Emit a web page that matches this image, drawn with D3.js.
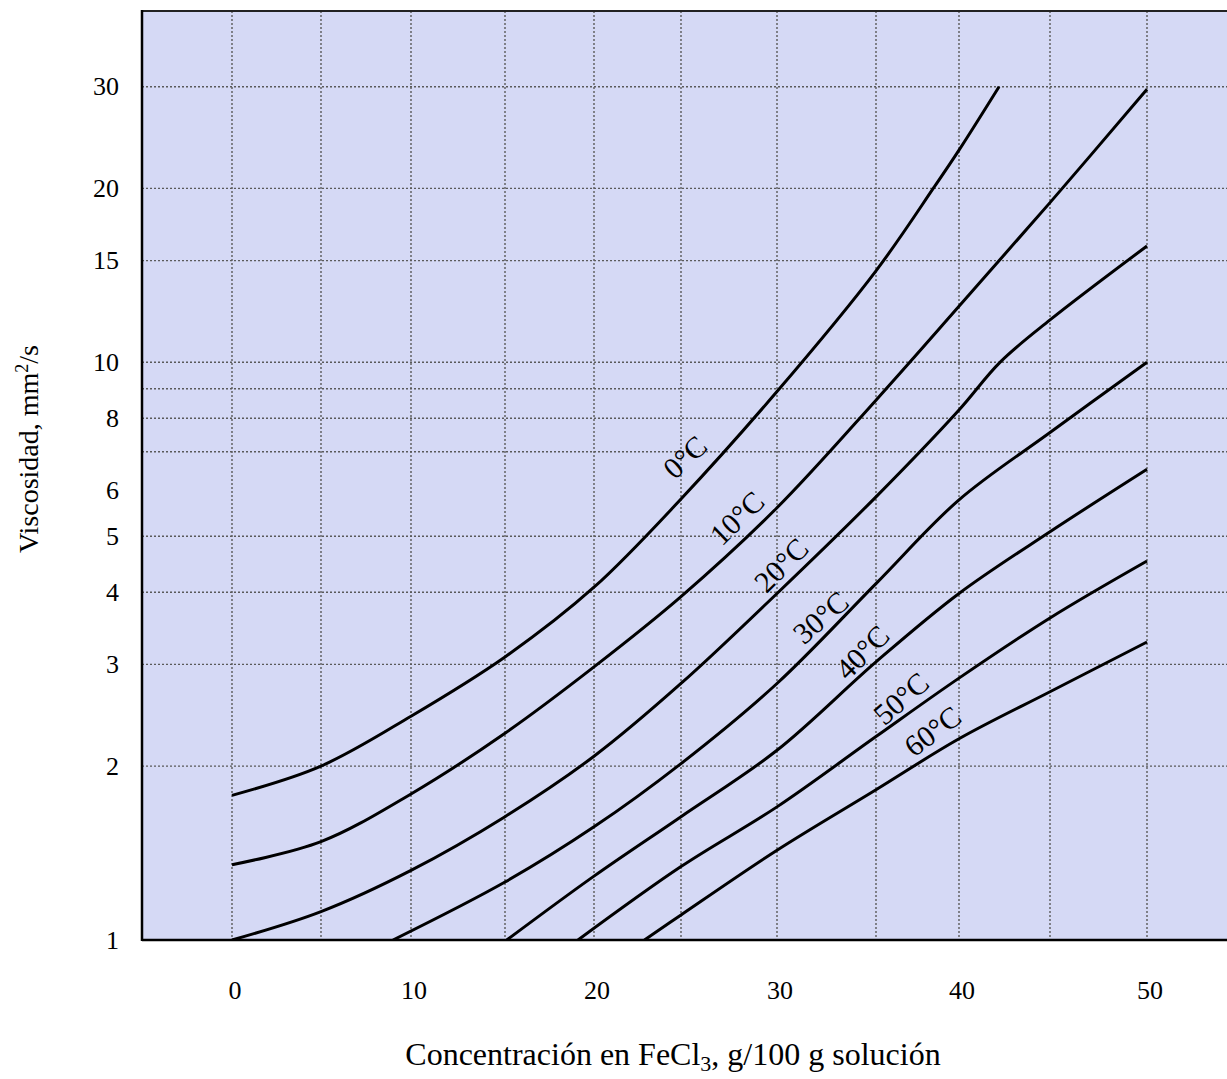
<!DOCTYPE html>
<html>
<head>
<meta charset="utf-8">
<script src="https://cdn.jsdelivr.net/npm/d3@7"></script>
<style>
  html, body { margin: 0; padding: 0; background: #ffffff; }
  svg { display: block; }
  text { font-family: "Liberation Serif", "Times New Roman", "DejaVu Serif", serif; fill: #000; }
</style>
</head>
<body>
<svg id="chart" width="1227" height="1079"></svg>
<script>
// ---------------- data ----------------
const xTicks = [0, 10, 20, 30, 40, 50];
const xGrid = [0, 5, 10, 15, 20, 25, 30, 35, 40, 45, 50, 55];
const yTickLabels = [1, 2, 3, 4, 5, 6, 8, 10, 15, 20, 30];
const yGrid = [2, 3, 4, 5, 7, 8, 9, 10, 15, 20, 30];

const temps = ["0°C", "10°C", "20°C", "30°C", "40°C", "50°C", "60°C"];

const c0 = [[0,1.78],[5,2.0],[10,2.44],[15,3.09],[20,4.08],[25,5.8],[30,8.9],[35,14.4],[38.5,20.1],[40,23.3],[42.2,30]];
const c10 = [[0,1.35],[5,1.48],[10,1.79],[15,2.28],[20,2.97],[25,3.93],[30,5.6],[35,8.6],[40,12.5],[45,18.9],[50,29.7]];
const c20 = [[0,1.0],[5,1.12],[10,1.32],[15,1.635],[20,2.08],[25,2.78],[30,3.98],[35,5.85],[40,8.27],[42.25,10],[45,11.84],[50,15.9]];
const c30 = [[9.0,1.0],[15,1.26],[20,1.57],[25,2.02],[30,2.78],[35,4.14],[40,5.78],[45,7.56],[50,10.0]];
const c40 = [[15.1,1.0],[20,1.29],[25,1.635],[30,2.13],[35,3.03],[40,3.98],[45,5.09],[50,6.53]];
const c50 = [[19.1,1.0],[25,1.34],[30,1.70],[35,2.25],[40,2.84],[45,3.61],[50,4.53]];
const c60 = [[22.9,1.0],[25,1.105],[30,1.43],[35,1.82],[40,2.23],[45,2.69],[50,3.28]];
const curves = [c0, c10, c20, c30, c40, c50, c60];

// label anchors (data coordinates) and rotation
const labelAt = [[25.2,6.86],[27.9,5.38],[30.2,4.46],[32.2,3.62],[34.3,3.15],[36.5,2.62],[38.4,2.30]];
const labelAngle = [-43, -44, -45, -41, -45, -41, -37];

// ---------------- scales ----------------
const x = d3.scaleLinear()
  .domain([-5, 0, 5, 10, 15, 20, 25, 30, 35, 40, 45, 50, 55])
  .range([142, 232, 321, 411, 505, 594, 681, 777, 876, 959, 1050, 1147, 1240]);
const y = d3.scaleLog().domain([1, 30]).range([940, 86.7]);

const plotLeft = 142, plotRight = 1240, plotTop = 11, plotBottom = 940;

const svg = d3.select("#chart");

svg.append("defs").append("clipPath").attr("id", "clip")
  .append("rect").attr("x", plotLeft).attr("y", plotTop)
  .attr("width", plotRight - plotLeft).attr("height", plotBottom - plotTop);

// background
svg.append("rect")
  .attr("x", plotLeft).attr("y", plotTop)
  .attr("width", plotRight - plotLeft).attr("height", plotBottom - plotTop)
  .attr("fill", "#d5d9f5");

// grid
const grid = svg.append("g").attr("stroke", "#5a5a5a").attr("stroke-width", 1.4)
  .attr("stroke-dasharray", "2,2");
grid.selectAll("line.v").data(xGrid).join("line")
  .attr("x1", d => x(d)).attr("x2", d => x(d))
  .attr("y1", plotTop).attr("y2", plotBottom);
grid.selectAll("line.h").data(yGrid).join("line")
  .attr("x1", plotLeft).attr("x2", plotRight)
  .attr("y1", d => y(d)).attr("y2", d => y(d));

// frame lines
svg.append("line").attr("x1", plotLeft).attr("x2", plotRight)
  .attr("y1", plotTop).attr("y2", plotTop).attr("stroke", "#222").attr("stroke-width", 2);
svg.append("line").attr("x1", plotLeft).attr("x2", plotRight)
  .attr("y1", plotBottom).attr("y2", plotBottom).attr("stroke", "#000").attr("stroke-width", 2.5);
svg.append("line").attr("x1", plotLeft).attr("x2", plotLeft)
  .attr("y1", plotTop - 1).attr("y2", plotBottom + 1).attr("stroke", "#000").attr("stroke-width", 2.5);

// curves
const line = d3.line().x(d => x(d[0])).y(d => y(d[1])).curve(d3.curveCatmullRom.alpha(0.5));
svg.append("g").attr("clip-path", "url(#clip)")
  .selectAll("path").data(curves).join("path")
  .attr("d", line)
  .attr("fill", "none").attr("stroke", "#000").attr("stroke-width", 3)
  .attr("stroke-linecap", "butt");

// curve labels
svg.append("g").selectAll("text").data(temps).join("text")
  .attr("transform", (d, i) => `translate(${x(labelAt[i][0])},${y(labelAt[i][1])}) rotate(${labelAngle[i]})`)
  .attr("text-anchor", "middle")
  .attr("dominant-baseline", "central")
  .attr("font-size", 30)
  .text(d => d);

// y tick labels
svg.append("g").selectAll("text").data(yTickLabels).join("text")
  .attr("x", 119).attr("y", d => y(d))
  .attr("text-anchor", "end").attr("dominant-baseline", "central")
  .attr("font-size", 26)
  .text(d => d);

// x tick labels
svg.append("g").selectAll("text").data(xTicks).join("text")
  .attr("x", d => x(d) + 3).attr("y", 990)
  .attr("text-anchor", "middle").attr("dominant-baseline", "central")
  .attr("font-size", 26)
  .text(d => d);

// x title
const xt = svg.append("text").attr("x", 673).attr("y", 1065)
  .attr("text-anchor", "middle").attr("font-size", 32);
xt.append("tspan").text("Concentración en FeCl");
xt.append("tspan").attr("font-size", 22).attr("dy", 6).text("3");
xt.append("tspan").attr("dy", -6).text(", g/100 g solución");

// y title
const yt = svg.append("text")
  .attr("transform", "translate(38,449) rotate(-90)")
  .attr("text-anchor", "middle").attr("font-size", 28);
yt.append("tspan").text("Viscosidad, mm");
yt.append("tspan").attr("font-size", 18).attr("dy", -10).text("2");
yt.append("tspan").attr("dy", 10).text("/s");
</script>
</body>
</html>
